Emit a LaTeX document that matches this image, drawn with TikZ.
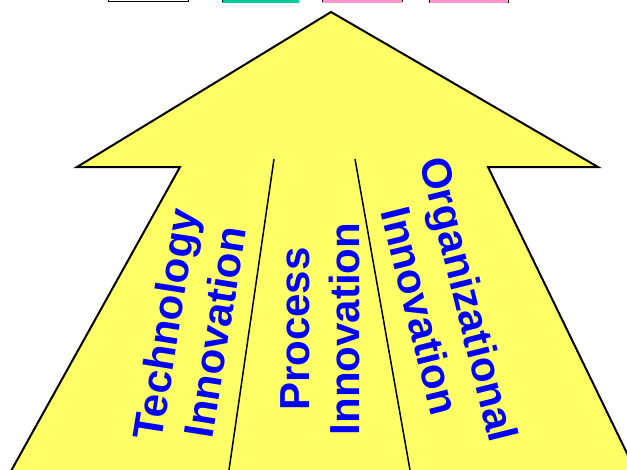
\documentclass[tikz,border=0pt]{standalone}
\usepackage{fontspec}
\setmainfont{Liberation Sans}
\definecolor{arrowyellow}{RGB}{255,255,102}
\definecolor{labelblue}{RGB}{0,0,255}
\definecolor{teal1}{RGB}{0,204,153}
\definecolor{pink1}{RGB}{255,153,204}
\tikzset{
  label text/.style={text=labelblue, font=\fontsize{42}{50}\selectfont\bfseries, align=center, inner sep=0pt},
  divider/.style={draw=black, line width=1.5pt},
  topbox/.style={draw=black, line width=1pt}
}
\begin{document}
\begin{tikzpicture}[x=1pt,y=-1pt]
\useasboundingbox (0,0) rectangle (627,469);
\begin{scope}
\clip (0,0) rectangle (627,469);
% top boxes (cut off)
\draw[topbox, fill=white] (108,-20) rectangle (188,1.5);
\fill[teal1] (222,-20) rectangle (299,3);
\draw[topbox] (222,-20) -- (222,2);
\fill[pink1] (322,-20) rectangle (402,3);
\draw[topbox] (322,-20) -- (322,2) (402,-20) -- (402,2);
\fill[pink1] (429,-20) rectangle (508,3);
\draw[topbox] (429,-20) -- (429,3) (508,-20) -- (508,3);
% arrow
\draw[fill=arrowyellow, line width=2pt, line join=miter]
  (331,12) -- (598,167) -- (488,167) -- (640,480) -- (6,480) -- (180,167) -- (77,167) -- cycle;
\coordinate (d1t) at (274,159);
\coordinate (d1b) at (229,470);
\coordinate (d2t) at (355,159);
\coordinate (d2b) at (410,470);
\draw[divider] (d1t) -- (d1b);
\draw[divider] (d2t) -- (d2b);
\end{scope}
\node[label text, rotate=81] (tech) at (190,328) {Technology\\Innovation};
\node[label text, rotate=90] (proc) at (320,329) {Process\\Innovation};
\node[label text, rotate=-76] (org) at (445,305) {Organizational\\Innovation};
\end{tikzpicture}
\end{document}
